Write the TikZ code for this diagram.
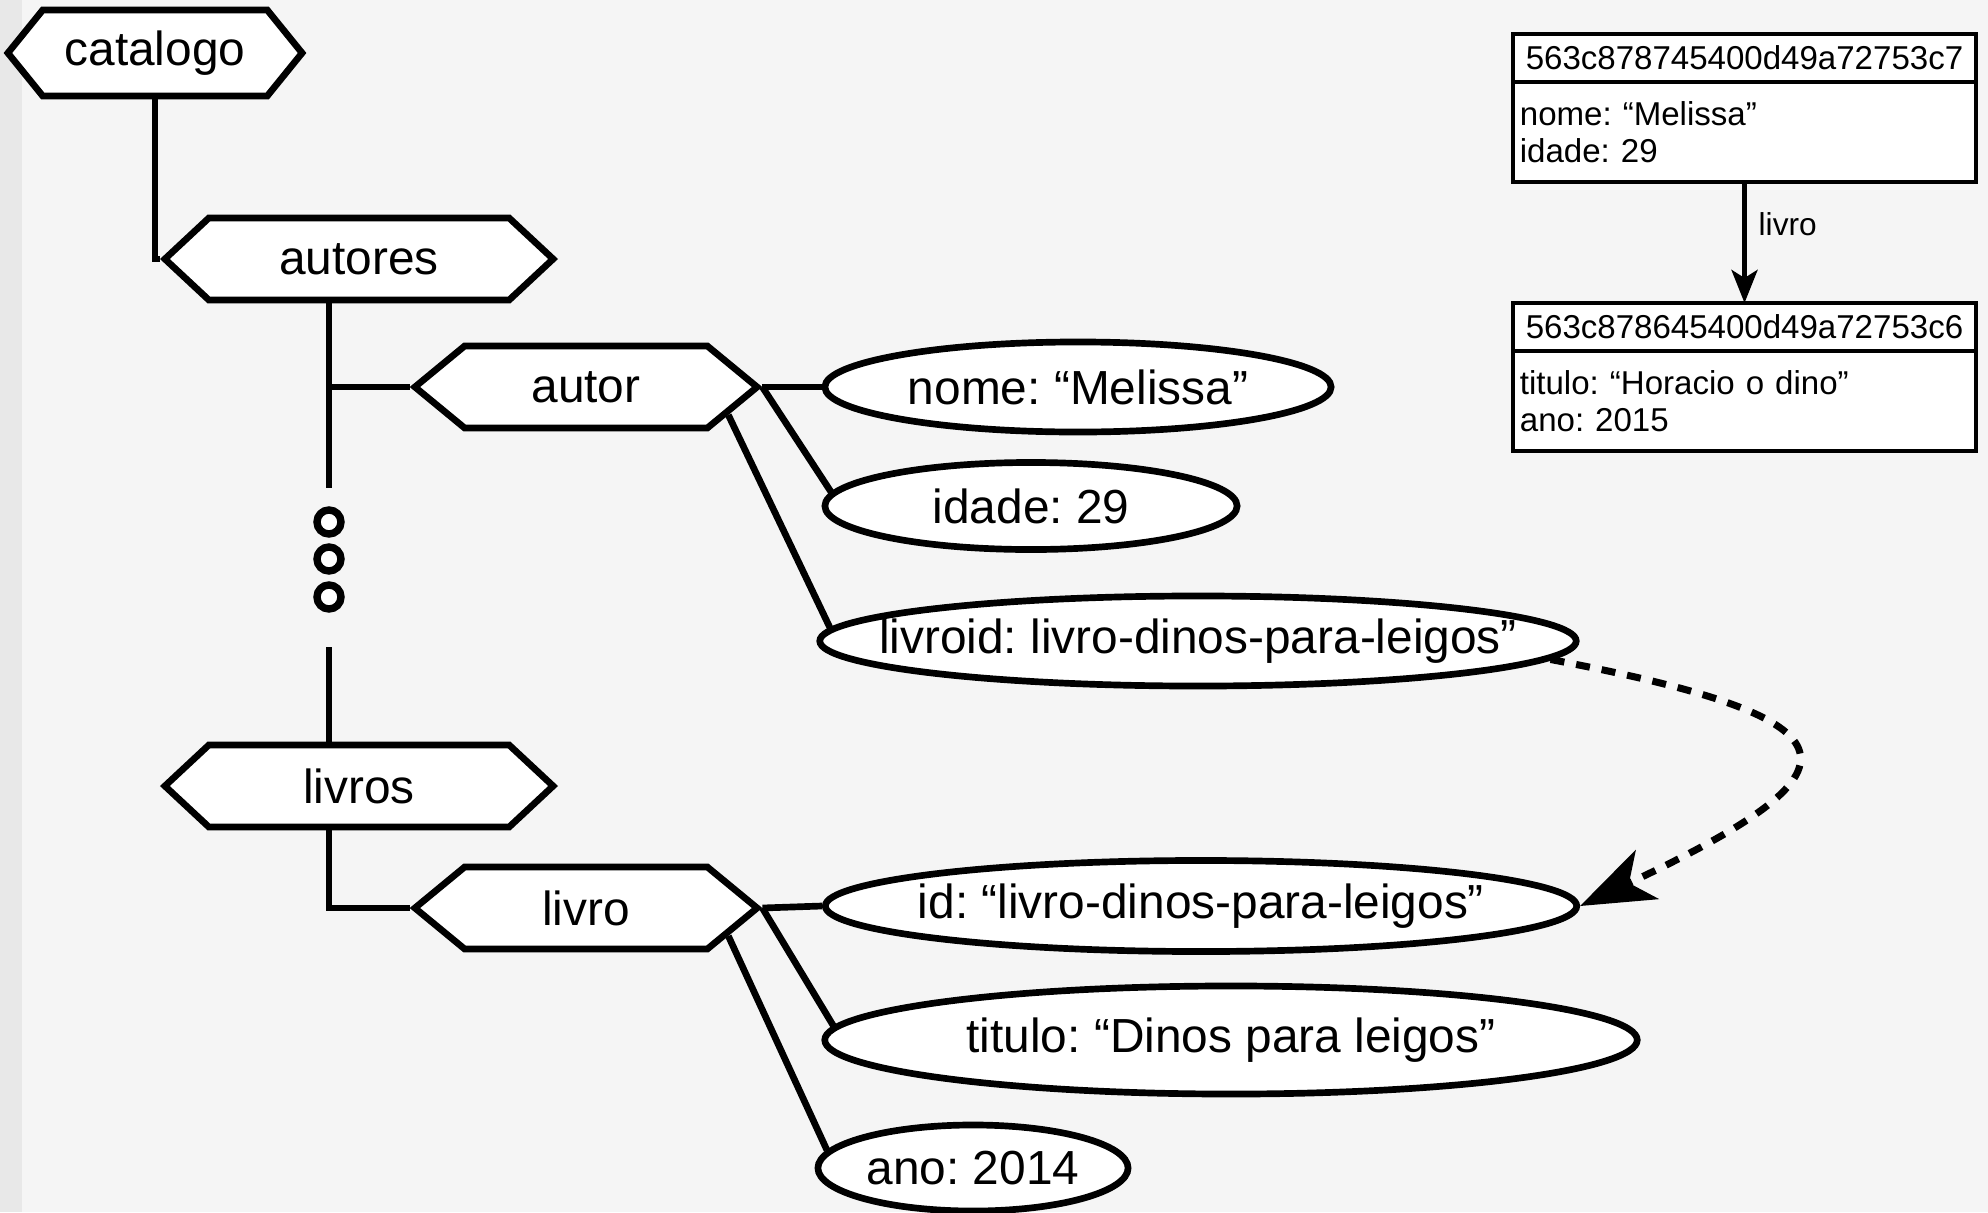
\documentclass[tikz,border=0pt]{standalone}
\usepackage{fontspec}
\setmainfont{Liberation Sans}
\usetikzlibrary{arrows.meta, positioning, calc, shapes.symbols, shapes.geometric}
\definecolor{paper}{RGB}{245,245,245}
\definecolor{edgeStrip}{RGB}{232,232,232}
\definecolor{ink}{RGB}{0,0,0}
\newcommand{\fieldtext}[1]{\makebox[0pt]{#1}}
\frenchspacing

\begin{document}
\begin{tikzpicture}[
  x=0.01cm, y=-0.01cm,
  keynode/.style={signal, signal to=east and west, draw=ink, fill=white, line width=1.9pt, inner sep=0pt, minimum height=0.82cm, font=\fontsize{13.6}{16}\selectfont},
  field/.style={ellipse, draw=ink, fill=white, line width=1.9pt, inner sep=0pt, minimum height=0.88cm, font=\fontsize{13.6}{16}\selectfont},
  link/.style={draw=ink, line width=1.9pt},
  ring/.style={circle, draw=ink, fill=white, line width=2.1pt, minimum size=0.24cm, inner sep=0pt},
  dochead/.style={draw=ink, fill=white, line width=1.2pt, outer sep=0pt, minimum width=4.63cm, minimum height=0.48cm, inner sep=0pt, font=\fontsize{9.4}{10.5}\selectfont},
  docbody/.style={draw=ink, fill=white, line width=1.2pt, outer sep=0pt, text width=4.49cm, inner xsep=0.07cm, inner ysep=0pt, align=left, minimum height=1cm, font=\fontsize{9.4}{10.5}\selectfont},
  refarr/.style={-{Stealth[length=7.4mm, width=5.4mm, inset=2mm]}, line width=2pt, dash pattern=on 1.4mm off 1.2mm},
  docarr/.style={-{Stealth[length=3.3mm, width=2.6mm, inset=0.8mm]}, line width=1.4pt}
]
\useasboundingbox (0,0) rectangle (1988,1212);
\fill[paper] (0,0) rectangle (1988,1212);
\fill[edgeStrip] (0,0) rectangle (22,1212);

% tree of keys
\node[keynode, signal pointer angle=102, minimum width=2.94cm, minimum height=0.86cm] (catalogo) at (155,53) {catalogo};
\node[keynode, signal pointer angle=86, minimum width=3.88cm] (autores) at (359,259) {autores};
\node[keynode, signal pointer angle=86, minimum width=3.88cm] (livros) at (359,786) {livros};
\node[keynode, signal pointer angle=79, minimum width=3.42cm] (autor) at (586,387) {autor};
\node[keynode, signal pointer angle=79, minimum width=3.42cm] (livro) at (586,908) {livro};

% fields
\node[field, minimum width=5.06cm, minimum height=0.90cm] (nome) at (1078,387) {\fieldtext{nome: “Melissa”}};
\node[field, minimum width=4.12cm, minimum height=0.87cm] (idade) at (1031,506) {\fieldtext{idade: 29}};
\node[field, minimum width=7.56cm, minimum height=0.90cm] (livroid) at (1198,641) {\fieldtext{livroid: livro-dinos-para-leigos”}};
\node[field, minimum width=7.51cm, minimum height=0.91cm] (bookid) at (1201,906) {\fieldtext{id: “livro-dinos-para-leigos”}};
\node[field, minimum width=8.12cm, minimum height=1.08cm] (titulo) at (1231,1040) {\fieldtext{titulo: “Dinos para leigos”}};
\node[field, minimum width=3.10cm, minimum height=0.86cm] (ano) at (973,1168) {\fieldtext{ano: 2014}};

% spine
\coordinate (spineA) at ($(autores.south)+(-30,0)$);
\coordinate (spineB) at (329,488);
\coordinate (spineC) at (329,647);
\draw[link] (catalogo.south) |- (autores.west);
\draw[link] (spineA) -- (spineB);
\draw[link] (spineA |- autor.west) -- (autor.west);
\foreach \n/\y in {dotA/522, dotB/559, dotC/597}
  \node[ring] (\n) at (329,\y) {};
\draw[link] (spineC) -- (spineC |- livros.north);
\draw[link] (livros.south -| spineC) |- (livro.west);

% key to fields
\draw[link] (autor.east) -- (nome.west);
\draw[link] (autor.east) -- (idade.176);
\draw[link] ($(autor.east)+(-34,28)$) -- (livroid.178);
\draw[link] (livro.east) -- (bookid.west);
\draw[link] (livro.east) -- (titulo.178);
\draw[link] ($(livro.east)+(-34,28)$) -- (ano.173);

% reference
\draw[refarr] (livroid.-3) .. controls (1870,720) and (1870,770) .. (bookid.east);

% documents
\node[dochead] (headA) at (1744.5,58) {563c878745400d49a72753c7};
\node[docbody, below=0pt of headA] (bodyA) {nome: “Melissa”\\idade: 29};
\node[dochead] (headB) at (1744.5,327) {563c878645400d49a72753c6};
\node[docbody, below=0pt of headB] (bodyB) {titulo: “Horacio o dino”\\ano: 2015};
\draw[docarr] (bodyA.south) -- (headB.north) node[pos=0.35, right=0pt, font=\fontsize{9}{10}\selectfont] (rel) {livro};
\end{tikzpicture}
\end{document}
